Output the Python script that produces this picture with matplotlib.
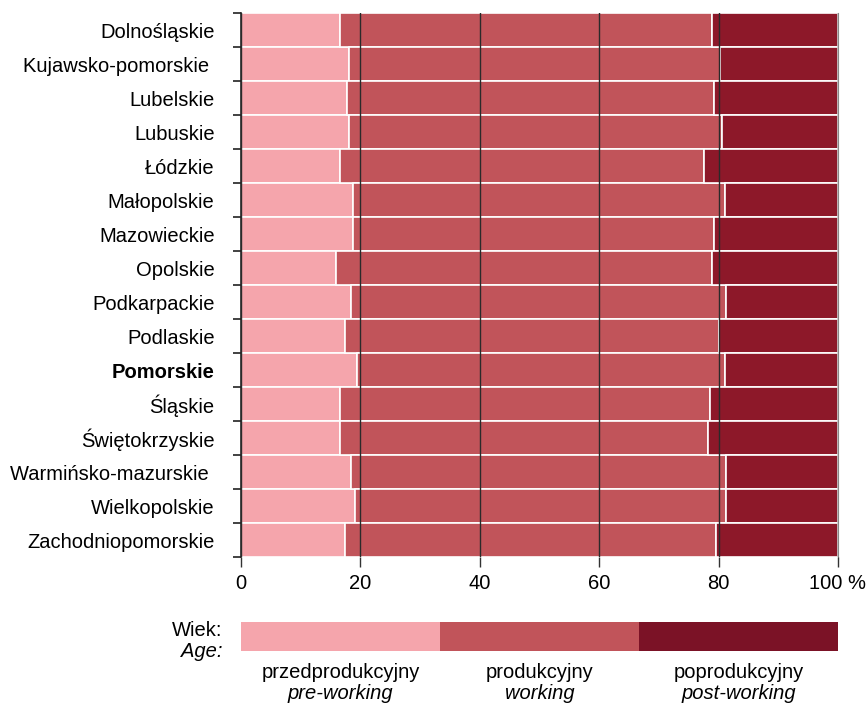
import numpy as np
import matplotlib.pyplot as plt

plt.rcParams['font.family'] = ['Liberation Sans', 'DejaVu Sans']

regions = ['Dolnośląskie', 'Kujawsko-pomorskie ', 'Lubelskie', 'Lubuskie', 'Łódzkie',
           'Małopolskie', 'Mazowieckie', 'Opolskie', 'Podkarpackie', 'Podlaskie',
           'Pomorskie', 'Śląskie', 'Świętokrzyskie', 'Warmińsko-mazurskie ',
           'Wielkopolskie', 'Zachodniopomorskie']
pre_working = [16.6, 18.1, 17.7, 18.1, 16.6, 18.7, 18.7, 16.0, 18.4, 17.4,
               19.4, 16.6, 16.6, 18.4, 19.1, 17.4]
working = [62.3, 62.2, 61.6, 62.5, 61.0, 62.3, 60.6, 62.9, 62.9, 62.6,
           61.6, 62.0, 61.6, 62.9, 62.2, 62.2]
post_working = [21.1, 19.7, 20.7, 19.4, 22.4, 19.0, 20.7, 21.1, 18.7, 20.0,
                19.0, 21.4, 21.8, 18.7, 18.7, 20.4]

legend_pl = ['przedprodukcyjny', 'produkcyjny', 'poprodukcyjny']
legend_en = ['pre-working', 'working', 'post-working']
colors = ['#F5A5AC', '#C1545A', '#8D1829']
legend_colors = ['#F5A5AC', '#C1545A', '#7B1226']

fs = 14.5
fig = plt.figure(figsize=(8.68, 7.04), dpi=100)
ax = fig.add_axes([0.2776, 0.2088, 0.6878, 0.7727])

y = np.arange(len(regions))
left = np.zeros(len(regions))
for vals, c in zip([pre_working, working, post_working], colors):
    ax.barh(y, vals, left=left, height=1.0, color=c, edgecolor='white', linewidth=1.2, zorder=2)
    left = left + np.array(vals)

ax.set_ylim(len(regions) - 0.5, -0.5)
ax.set_xlim(0, 100)
ax.set_yticks(np.arange(-0.5, len(regions)))
ax.set_yticklabels([])
ax.set_yticks(y, minor=True)
ax.set_yticklabels(regions, minor=True, fontsize=fs)
for lbl in ax.get_yticklabels(minor=True):
    if lbl.get_text() == 'Pomorskie':
        lbl.set_fontweight('bold')
ax.tick_params(axis='y', which='major', length=6, width=1.2, color='#222222')
ax.tick_params(axis='y', which='minor', length=0, pad=19)

ax.set_xticks([0, 20, 40, 60, 80, 100])
ax.set_xticklabels(['0', '20', '40', '60', '80', '100 %'], fontsize=fs)
ax.tick_params(axis='x', length=7, width=1.0, color='#333333', pad=5)
ax.xaxis.grid(True, color='#2a2a2a', linewidth=1.0, zorder=3)
ax.set_axisbelow(False)
for s in ['top', 'bottom']:
    ax.spines[s].set_visible(False)
ax.spines['right'].set_color('#888888')
ax.spines['left'].set_color('#222222')
ax.spines['left'].set_linewidth(1.2)

# legend strip
lax = fig.add_axes([0.2776, 0.0753, 0.6878, 0.0412])
for i, c in enumerate(legend_colors):
    lax.barh(0, 1, left=i, height=1, color=c, linewidth=0)
    lax.text(i + 0.5, -1.23, legend_pl[i], ha='center', va='center', fontsize=fs)
    lax.text(i + 0.5, -1.95, legend_en[i], ha='center', va='center', fontsize=fs,
             style='italic')
lax.set_xlim(0, 3)
lax.set_ylim(-0.5, 0.5)
lax.axis('off')
fig.text(0.2565, 0.105, 'Wiek:', ha='right', va='center', fontsize=fs)
fig.text(0.2565, 0.075, 'Age:', ha='right', va='center', fontsize=fs, style='italic')

fig.savefig('out.png', dpi=100)
